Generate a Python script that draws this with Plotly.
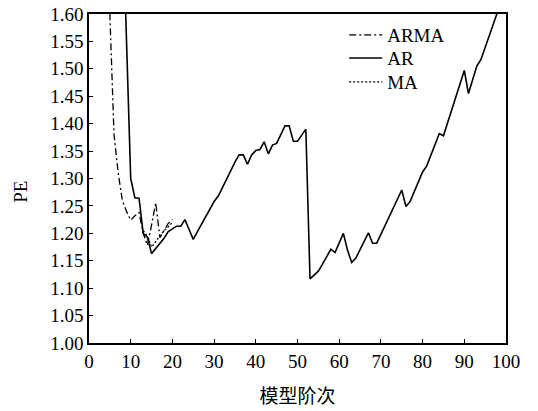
import plotly.graph_objects as go

# Prediction error (PE) versus model order for three model families
ar_order = list(range(8, 101))
ar_pe = [
    1.80, 1.55, 1.300, 1.265, 1.264, 1.200, 1.193, 1.163, 1.172, 1.182,
    1.191, 1.203, 1.208, 1.213, 1.213, 1.225, 1.207, 1.189, 1.203, 1.217,
    1.230, 1.244, 1.258, 1.268, 1.284, 1.300, 1.315, 1.330, 1.343, 1.343,
    1.326, 1.343, 1.351, 1.353, 1.367, 1.345, 1.361, 1.364, 1.380, 1.396,
    1.396, 1.368, 1.368, 1.379, 1.390, 1.117, 1.124, 1.131, 1.144, 1.158,
    1.171, 1.165, 1.182, 1.200, 1.169, 1.147, 1.155, 1.170, 1.186, 1.201,
    1.182, 1.182, 1.198, 1.214, 1.230, 1.246, 1.262, 1.279, 1.249, 1.258,
    1.276, 1.294, 1.312, 1.323, 1.342, 1.362, 1.382, 1.378, 1.402, 1.426,
    1.450, 1.474, 1.497, 1.455, 1.480, 1.505, 1.517, 1.538, 1.560, 1.582,
    1.604, 1.626, 1.648,
]

arma_order = list(range(4, 21))
arma_pe = [1.82, 1.58, 1.38, 1.31, 1.26, 1.240, 1.224, 1.232, 1.238, 1.200,
           1.178, 1.215, 1.256, 1.192, 1.205, 1.218, 1.225]

ma_order = list(range(13, 21))
ma_pe = [1.205, 1.195, 1.175, 1.185, 1.195, 1.205, 1.212, 1.220]

x_ticks = list(range(0, 101, 10))
y_ticks = [round(1.0 + 0.05 * i, 2) for i in range(13)]

serif = "Liberation Serif, Times New Roman, serif"

fig = go.Figure()
fig.add_trace(go.Scatter(x=arma_order, y=arma_pe, mode="lines", name="ARMA",
                         legend="legend",
                         line=dict(color="black", width=1.3, dash="7px,3px,2px,3px")))
fig.add_trace(go.Scatter(x=ar_order, y=ar_pe, mode="lines", name="AR",
                         legend="legend2",
                         line=dict(color="black", width=1.6)))
fig.add_trace(go.Scatter(x=ma_order, y=ma_pe, mode="lines", name="MA",
                         legend="legend3",
                         line=dict(color="black", width=1.3, dash="2px,2px")))

axis_common = dict(
    showline=True, linecolor="black", linewidth=1.5, mirror=True,
    ticks="inside", ticklen=4, tickwidth=1.2, tickcolor="black",
    showgrid=False, zeroline=False, automargin=False,
    tickfont=dict(family=serif, size=19, color="black"),
)

fig.update_xaxes(range=[0, 100], tickvals=x_ticks,
                 title=dict(text="模型阶次", standoff=19,
                            font=dict(family="Noto Sans CJK SC", size=19, color="black")),
                 **axis_common)
fig.update_yaxes(range=[1.0, 1.6], tickvals=y_ticks, tickformat=".2f",
                 **axis_common)

# y-axis label, sitting a little below the vertical centre of the frame
fig.add_annotation(text="PE", xref="paper", yref="paper", x=-0.165, y=0.46,
                   xanchor="center", yanchor="middle", textangle=-90,
                   showarrow=False, font=dict(family=serif, size=19, color="black"))

legend_style = dict(x=0.612, xanchor="left", yanchor="middle",
                    bgcolor="rgba(0,0,0,0)", borderwidth=0,
                    font=dict(family=serif, size=19, color="black"),
                    itemwidth=33)

fig.update_layout(
    width=538, height=411,
    margin=dict(l=89, r=32, t=14, b=68),
    paper_bgcolor="white", plot_bgcolor="white",
    showlegend=True,
    legend=dict(y=0.936, **legend_style),
    legend2=dict(y=0.866, **legend_style),
    legend3=dict(y=0.793, **legend_style),
)

fig.write_html("out.html")
